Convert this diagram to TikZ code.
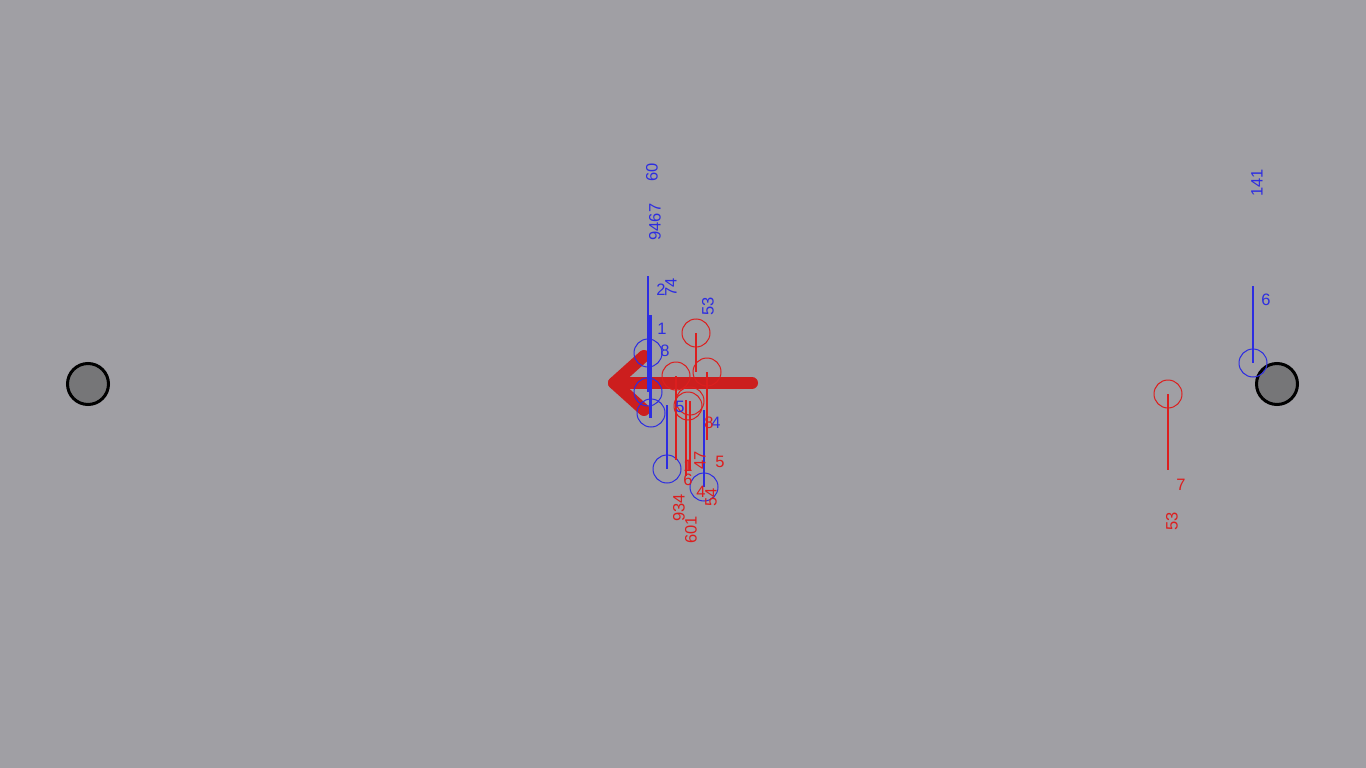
\documentclass[tikz,border=0pt]{standalone}
\usepackage{fontspec}
\setmainfont{Liberation Sans}
\definecolor{bg}{RGB}{160,159,164}
\definecolor{bl}{RGB}{45,45,225}
\definecolor{rd}{RGB}{220,30,30}
\definecolor{arr}{RGB}{204,30,30}
\definecolor{knob}{RGB}{118,118,120}
\begin{document}
\begin{tikzpicture}[x=1pt,y=-1pt,
  lab/.style={inner sep=0pt,font=\fontsize{16.5}{18}\selectfont},
  bt/.style={lab,text=bl},
  rt/.style={lab,text=rd},
  bc/.style={circle,draw=bl,line width=1pt,minimum size=28pt,inner sep=0pt},
  rc/.style={circle,draw=rd,line width=1pt,minimum size=28pt,inner sep=0pt},
  bline/.style={draw=bl,line width=1.2pt},
  rline/.style={draw=rd,line width=1.2pt},
  end/.style={circle,draw=black,line width=3pt,fill=knob,minimum size=41pt,inner sep=0pt}]
\fill[bg] (0,0) rectangle (1366,768);
\useasboundingbox (0,0) rectangle (1366,768);
% red arrow (underneath)
\coordinate (aS) at (752,383);
\coordinate (aT) at (614,383);
\coordinate (aU) at (644,356);
\coordinate (aD) at (644,410);
\draw[arr,line width=12pt,line cap=round,line join=round] (aS) -- (aT);
\draw[arr,line width=12pt,line cap=round,line join=round] (aU) -- (aT) -- (aD);
% end knobs
\node[end] (L) at (88,384) {};
\node[end] (R) at (1277,384) {};
% blue circles
\node[bc] (b1) at (648,353) {};
\node[bc] (b2) at (648,392) {};
\node[bc] (b3) at (651,413) {};
\node[bc] (b4) at (667,469) {};
\node[bc] (b5) at (704,487) {};
\node[bc] (b6) at (1253,363) {};
% red circles
\node[rc] (r1) at (696,333) {};
\node[rc] (r2) at (676,376) {};
\node[rc] (r3) at (707,372) {};
\node[rc] (r4) at (688,406) {};
\node[rc] (r5) at (690,401) {};
\node[rc] (r6) at (1168,394) {};
% coordinates for line ends
\coordinate (bt1) at (648,276);
\coordinate (bt2) at (650,315);
\coordinate (bb2) at (650,418);
\coordinate (bt4) at (667,405);
\coordinate (bt5) at (704,410);
\coordinate (bt6) at (1253,286);
\coordinate (rb1) at (696,372);
\coordinate (rb2) at (676,460);
\coordinate (rt4) at (686,400);
\coordinate (rb4) at (686,476);
\coordinate (rb3) at (707,440);
\coordinate (rb5) at (690,470);
\coordinate (rb6) at (1168,470);
% blue lines
\draw[bline] (bt1) -- (b2.center);
\draw[draw=bl,line width=3pt] (bt2) -- (bb2);
\draw[bline] (bt4) -- (b4.center);
\draw[bline] (bt5) -- (b5.center);
\draw[bline] (bt6) -- (b6.center);
% red lines
\draw[rline] (r1.center) -- (rb1);
\draw[rline] (r2.center) -- (rb2);
\draw[rline] (rt4) -- (rb4);
\draw[rline] (r3.center) -- (rb3);
\draw[rline] (r5.center) -- (rb5);
\draw[rline] (r6.center) -- (rb6);
% blue labels
\node[bt,rotate=90] (t60) at (652,172) {60};
\node[bt,rotate=90] (t9467) at (655,222) {9467};
\node[bt] (t2) at (661,290) {2};
\node[bt,rotate=90] (t74) at (671,287) {74};
\node[bt,rotate=90] (t53) at (708,306) {53};
\node[bt] (t1) at (662,329) {1};
\node[bt] (t8) at (665,351) {8};
\node[bt] (t5) at (680,407) {5};
\node[bt] (t4) at (716,423) {4};
\node[bt,rotate=90] (t141) at (1257,183) {141};
\node[bt] (t6) at (1266,300) {6};
% red labels
\node[rt] (u8) at (709,423) {8};
\node[rt] (u5) at (720,462) {5};
\node[rt,rotate=90] (u47) at (700,460) {47};
\node[rt] (u1) at (688,466) {1};
\node[rt] (u6) at (688,480) {6};
\node[rt] (u4) at (701,492) {4};
\node[rt,rotate=90] (u54) at (711,497) {54};
\node[rt,rotate=90] (u934) at (679,508) {934};
\node[rt,rotate=90] (u601) at (691,530) {601};
\node[rt] (u7) at (1181,485) {7};
\node[rt,rotate=90] (u53) at (1172,521) {53};
\end{tikzpicture}
\end{document}
